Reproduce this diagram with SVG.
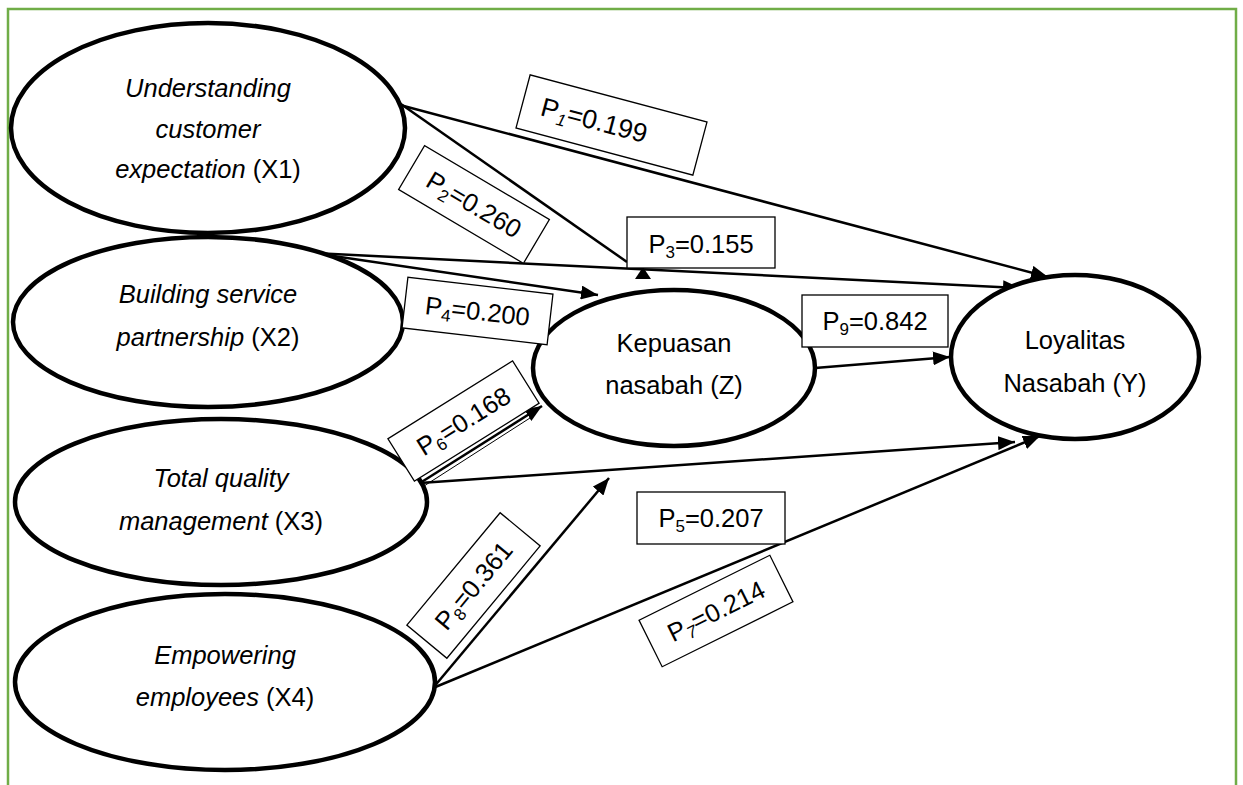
<svg xmlns="http://www.w3.org/2000/svg" width="1243" height="785" viewBox="0 0 1243 785">
<style>
.node{fill:#fff;stroke:#000;stroke-width:4.5}
.lbl{font-family:"Liberation Sans",Arial,sans-serif;font-size:25.5px;fill:#000;text-anchor:middle}
.it{font-style:italic}
.box{fill:#fff;stroke:#000;stroke-width:1.3}
.pt{font-family:"Liberation Sans",Arial,sans-serif;font-size:25.5px;fill:#000;text-anchor:middle}
.conn{stroke:#000;stroke-width:2.5;fill:none}
.arr{marker-end:url(#ah)}
</style>
<defs>
<marker id="ah" markerUnits="userSpaceOnUse" markerWidth="18" markerHeight="14" refX="17" refY="7" orient="auto">
<path d="M0,0 L17,7 L0,14 z" fill="#000"/>
</marker>
</defs>
<rect width="1243" height="785" fill="#fff"/>
<path d="M8,785 V9 H1236 V785" fill="none" stroke="#70AD47" stroke-width="2.5"/>

<g id="connectors">
<line class="conn arr" x1="400" y1="105" x2="1048" y2="277"/>
<line class="conn" x1="398" y1="102" x2="627" y2="262"/>
<line class="conn arr" x1="313" y1="253" x2="1020" y2="288"/>
<line class="conn arr" x1="313" y1="253" x2="598" y2="295"/>
<line class="conn arr" x1="420" y1="483" x2="542" y2="406"/>
<line stroke="#000" stroke-width="1" x1="424" y1="486" x2="530" y2="418"/>
<line class="conn arr" x1="420" y1="483" x2="1015" y2="442"/>
<line class="conn arr" x1="433" y1="688" x2="609" y2="478"/>
<line class="conn arr" x1="433" y1="688" x2="1040" y2="436"/>
<line class="conn arr" x1="815" y1="368" x2="950" y2="357"/>
<polygon points="643,267 651,279 635,279" fill="#000"/>
</g>

<g id="X1">
<ellipse class="node" cx="208" cy="128" rx="197" ry="105"/>
<text class="lbl it" x="208" y="97">Understanding</text>
<text class="lbl it" x="208" y="138">customer</text>
<text class="lbl" x="208" y="178"><tspan class="it">expectation</tspan> (X1)</text>
</g>
<g id="X2">
<ellipse class="node" cx="208" cy="322" rx="195" ry="85"/>
<text class="lbl it" x="208" y="303">Building service</text>
<text class="lbl" x="208" y="346"><tspan class="it">partnership</tspan> (X2)</text>
</g>
<g id="X3">
<ellipse class="node" cx="221" cy="502" rx="206" ry="83"/>
<text class="lbl it" x="221" y="487">Total quality</text>
<text class="lbl" x="221" y="530"><tspan class="it">management</tspan> (X3)</text>
</g>
<g id="X4">
<ellipse class="node" cx="225" cy="682" rx="210" ry="88"/>
<text class="lbl it" x="225" y="664">Empowering</text>
<text class="lbl" x="225" y="706"><tspan class="it">employees</tspan> (X4)</text>
</g>
<g id="Z">
<ellipse class="node" cx="674" cy="368" rx="141" ry="78"/>
<text class="lbl" x="674" y="352">Kepuasan</text>
<text class="lbl" x="674" y="394">nasabah (Z)</text>
</g>
<g id="Y">
<ellipse class="node" cx="1075" cy="357" rx="124" ry="82"/>
<text class="lbl" x="1075" y="349">Loyalitas</text>
<text class="lbl" x="1075" y="392">Nasabah (Y)</text>
</g>

<g id="P1" transform="translate(611.5,125) rotate(14.9)">
<rect class="box" x="-91.5" y="-27.5" width="183" height="55"/>
<text class="pt" x="-18" y="9" style="font-size:26.5px">P<tspan class="it" font-size="17" dy="5">1</tspan><tspan dy="-5">=0.199</tspan></text>
</g>
<g id="P2" transform="translate(474,204.5) rotate(30.6)">
<rect class="box" x="-72.5" y="-25.5" width="145" height="51"/>
<text class="pt" x="0" y="9">P<tspan font-size="17" dy="5">2</tspan><tspan dy="-5">=0.260</tspan></text>
</g>
<g id="P3">
<rect class="box" x="627" y="217" width="148" height="51"/>
<text class="pt" x="701" y="253">P<tspan font-size="17" dy="5">3</tspan><tspan dy="-5">=0.155</tspan></text>
</g>
<g id="P4" transform="translate(477.5,311) rotate(6.6)">
<rect class="box" x="-73" y="-25.5" width="146" height="51"/>
<text class="pt" x="0" y="9">P<tspan font-size="17" dy="5">4</tspan><tspan dy="-5">=0.200</tspan></text>
</g>
<g id="P5">
<rect class="box" x="637" y="492" width="148" height="52"/>
<text class="pt" x="711" y="527">P<tspan font-size="17" dy="5">5</tspan><tspan dy="-5">=0.207</tspan></text>
</g>
<g id="P6" transform="translate(463.5,421) rotate(-32)">
<rect class="box" x="-73.5" y="-25" width="147" height="50"/>
<text class="pt" x="0" y="9">P<tspan font-size="17" dy="5">6</tspan><tspan dy="-5">=0.168</tspan></text>
</g>
<g id="P7" transform="translate(716,611) rotate(-26.4)">
<rect class="box" x="-73" y="-26" width="146" height="52"/>
<text class="pt" x="0" y="9">P<tspan class="it" font-size="17" dy="5">7</tspan><tspan dy="-5">=0.214</tspan></text>
</g>
<g id="P8" transform="translate(473.5,585.5) rotate(-50.3)">
<rect class="box" x="-73" y="-26" width="146" height="52"/>
<text class="pt" x="0" y="9">P<tspan font-size="17" dy="5">8</tspan><tspan dy="-5">=0.361</tspan></text>
</g>
<g id="P9">
<rect class="box" x="802" y="295" width="146" height="52"/>
<text class="pt" x="875" y="330">P<tspan font-size="17" dy="5">9</tspan><tspan dy="-5">=0.842</tspan></text>
</g>
</svg>
